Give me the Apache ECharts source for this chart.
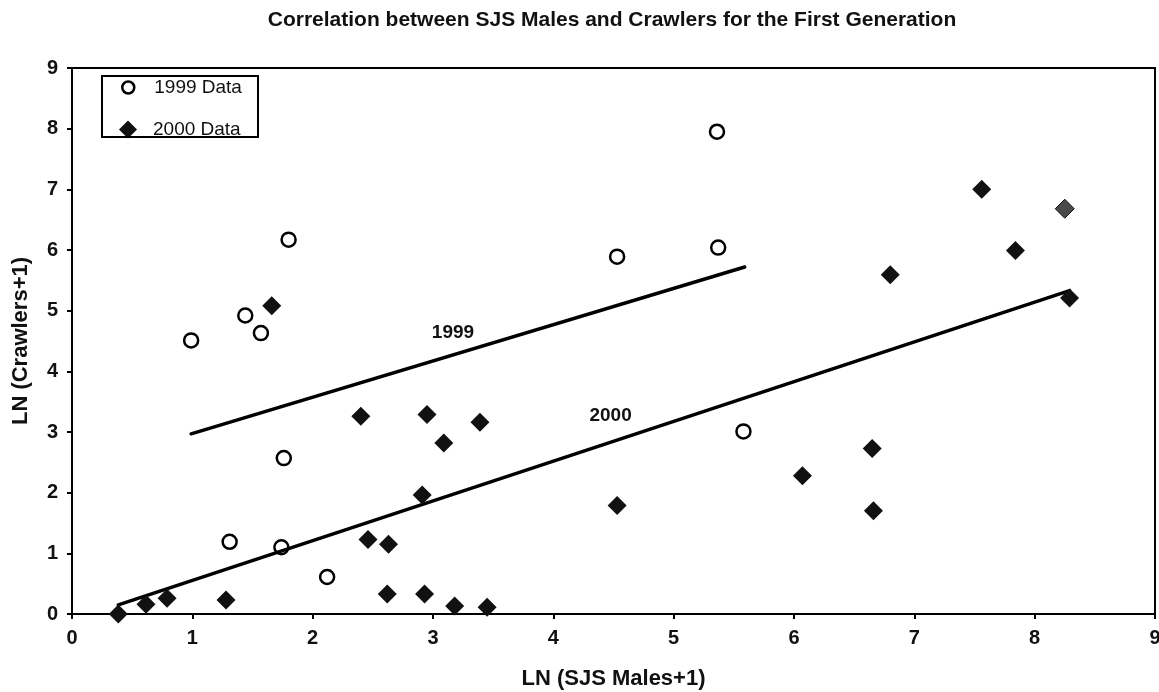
<!DOCTYPE html>
<html>
<head>
<meta charset="utf-8">
<script src="https://cdn.jsdelivr.net/npm/echarts@6/dist/echarts.min.js"></script>
<style>
  html, body { margin: 0; padding: 0; background: #fff; }
  #chart { width: 1159px; height: 692px; }
</style>
</head>
<body>
<div id="chart"></div>
<script>
// ---- data ----
const x1999 = [0.99, 1.44, 1.57, 1.80, 1.76, 1.31, 1.74, 2.12, 4.53, 5.36, 5.37, 5.58];
const y1999 = [4.51, 4.92, 4.63, 6.17, 2.57, 1.19, 1.10, 0.61, 5.89, 7.95, 6.04, 3.01];

const x2000 = [0.385, 0.615, 0.79, 1.28, 1.66, 2.40, 2.46, 2.62, 2.63, 2.91, 2.93, 2.95, 3.09, 3.18, 3.39, 3.45, 4.53, 6.07, 6.65, 6.66, 6.80, 7.56, 7.84, 8.25, 8.29];
const y2000 = [0.00, 0.16, 0.26, 0.23, 5.08, 3.26, 1.23, 0.33, 1.15, 1.96, 0.33, 3.29, 2.82, 0.13, 3.16, 0.11, 1.79, 2.28, 2.73, 1.70, 5.59, 7.00, 5.99, 6.68, 5.21];
const greyPoint2000 = 23; // slightly grey marker in the scan

const trend1999X = [0.99, 5.59];
const trend1999Y = [2.97, 5.72];
const trend2000X = [0.385, 8.29];
const trend2000Y = [0.15, 5.33];

const trendLabels = ['1999', '2000'];
const trendLabelX = [3.17, 4.48];
const trendLabelY = [4.63, 3.26];

const seriesNames = ['1999 Data', '2000 Data'];
const axisTicks = [0, 1, 2, 3, 4, 5, 6, 7, 8, 9];

const titleText = 'Correlation between SJS Males and Crawlers for the First Generation';
const xTitle = 'LN (SJS Males+1)';
const yTitle = 'LN (Crawlers+1)';

// ---- build ----
const FONT = '"Liberation Sans", Arial, sans-serif';
const zip = (xs, ys) => xs.map((x, i) => [x, ys[i]]);

const data2000 = zip(x2000, y2000).map((p, i) =>
  i === greyPoint2000 ? { value: p, itemStyle: { color: '#4a4a4a', borderColor: '#111', borderWidth: 1 } } : p);

const chart = echarts.init(document.getElementById('chart'), null, { renderer: 'canvas' });

const axisCommon = {
  type: 'value',
  min: axisTicks[0],
  max: axisTicks[axisTicks.length - 1],
  interval: 1,
  splitLine: { show: false },
  axisLine: { show: true, onZero: false, lineStyle: { color: '#000', width: 2 } },
  axisTick: { show: true, inside: false, length: 5, lineStyle: { color: '#000', width: 2 } },
  nameLocation: 'middle',
  nameTextStyle: { fontFamily: FONT, fontWeight: 'bold', fontSize: 22, color: '#111' }
};

const legendText = { fontFamily: FONT, fontSize: 19, color: '#111' };

chart.setOption({
  animation: false,
  backgroundColor: '#fff',
  title: {
    text: titleText,
    left: 607,
    top: 5,
    textAlign: 'center',
    textStyle: { fontFamily: FONT, fontWeight: 'bold', fontSize: 21, color: '#111' }
  },
  grid: {
    left: 72, right: 4, top: 68, bottom: 78,
    outerBoundsMode: 'none',
    containLabel: false,
    show: true, borderColor: '#000', borderWidth: 2, backgroundColor: 'transparent'
  },
  xAxis: Object.assign({}, axisCommon, {
    name: xTitle,
    nameGap: 54,
    axisLabel: { margin: 14, fontFamily: FONT, fontWeight: 'bold', fontSize: 20, color: '#111' }
  }),
  yAxis: Object.assign({}, axisCommon, {
    name: yTitle,
    nameGap: 40,
    axisLabel: { margin: 14, fontFamily: FONT, fontWeight: 'bold', fontSize: 20, color: '#111' }
  }),
  legend: [
    {
      orient: 'vertical', left: 121, top: 78, padding: 0,
      itemWidth: 12, itemHeight: 12, selectedMode: false,
      textStyle: Object.assign({ padding: [0, 0, 0, 15] }, legendText),
      data: [{ name: seriesNames[0], icon: 'circle',
        itemStyle: { color: 'transparent', borderColor: '#000', borderWidth: 2.5, opacity: 1 } }]
    },
    {
      orient: 'vertical', left: 119, top: 120, padding: 0,
      itemWidth: 18, itemHeight: 18, selectedMode: false,
      textStyle: Object.assign({ padding: [0, 0, 0, 11] }, legendText),
      data: [{ name: seriesNames[1], icon: 'diamond',
        itemStyle: { color: '#111', borderWidth: 0, opacity: 1 } }]
    }
  ],
  graphic: [{
    type: 'rect',
    shape: { x: 102, y: 76, width: 156, height: 61 },
    style: { fill: 'transparent', stroke: '#000', lineWidth: 2 },
    z: 100
  }],
  series: [
    {
      name: 'trend1999', type: 'line', data: zip(trend1999X, trend1999Y),
      symbol: 'none', silent: true, z: 1,
      lineStyle: { color: '#000', width: 3.5, cap: 'round' }
    },
    {
      name: 'trend2000', type: 'line', data: zip(trend2000X, trend2000Y),
      symbol: 'none', silent: true, z: 1,
      lineStyle: { color: '#000', width: 3.5, cap: 'round' }
    },
    {
      name: 'trendLabels', type: 'scatter', symbolSize: 1, silent: true, z: 3,
      itemStyle: { opacity: 1, color: 'transparent' },
      data: trendLabels.map((t, i) => ({ value: [trendLabelX[i], trendLabelY[i]], name: t })),
      label: {
        show: true, position: [0, 0], align: 'center', verticalAlign: 'middle',
        formatter: p => p.name, opacity: 1,
        fontFamily: FONT, fontWeight: 'bold', fontSize: 19, color: '#111'
      }
    },
    {
      name: seriesNames[0], type: 'scatter', symbol: 'circle', symbolSize: 14, z: 4,
      itemStyle: { color: 'transparent', borderColor: '#000', borderWidth: 2.5, opacity: 1 },
      data: zip(x1999, y1999)
    },
    {
      name: seriesNames[1], type: 'scatter', symbol: 'diamond', symbolSize: 19, z: 4,
      itemStyle: { color: '#111', opacity: 1 },
      data: data2000
    }
  ]
});
</script>
</body>
</html>
